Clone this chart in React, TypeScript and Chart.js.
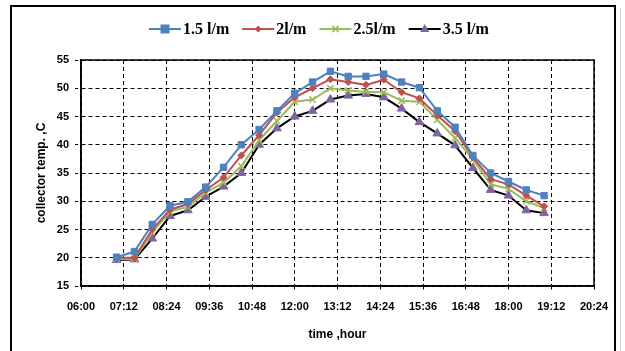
import React, { useEffect, useRef } from "react";
import { Chart, registerables } from "chart.js";

Chart.register(...registerables);

const timeLabels = [
  "07:00", "07:30", "08:00", "08:30", "09:00", "09:30", "10:00", "10:30", "11:00",
  "11:30", "12:00", "12:30", "13:00", "13:30", "14:00", "14:30", "15:00", "15:30",
  "16:00", "16:30", "17:00", "17:30", "18:00", "18:30", "19:00",
];
const flow15 = [20.1, 21.1, 25.9, 29.2, 29.9, 32.5, 36.0, 40.0, 42.7, 46.0, 49.1, 51.1, 53.0, 52.1, 52.1, 52.5, 51.1, 50.1, 46.0, 43.1, 38.1, 35.0, 33.5, 32.0, 31.0];
const flow2 = [20.0, 20.0, 25.0, 28.5, 29.5, 32.0, 34.2, 38.1, 41.7, 45.7, 48.4, 50.0, 51.6, 51.1, 50.6, 51.5, 49.3, 48.2, 45.2, 42.4, 37.8, 33.9, 33.0, 31.0, 29.1];
const flow25 = [19.8, 19.8, 24.5, 28.2, 29.0, 31.5, 33.3, 36.2, 40.8, 44.2, 47.6, 48.0, 50.0, 49.6, 49.4, 49.3, 47.8, 47.6, 44.4, 41.2, 37.4, 33.0, 32.2, 30.0, 28.8];
const flow35 = [19.6, 19.7, 23.4, 27.4, 28.4, 30.8, 32.6, 35.0, 40.0, 42.9, 45.0, 46.0, 48.0, 48.7, 49.0, 48.4, 46.4, 44.0, 42.0, 39.9, 35.9, 32.0, 31.0, 28.4, 27.9];

const seriesNames = ["1.5 l/m", "2l/m", "2.5l/m", "3.5 l/m"];
const yTicks = [15, 20, 25, 30, 35, 40, 45, 50, 55];
const xMinHour = 6;
const xMaxHour = 20.4;
const xStepHour = 1.2;

const toHour = (s: string) => {
  const [h, m] = s.split(":").map(Number);
  return h + m / 60;
};
const fmt = (v: number) => {
  const totalMin = Math.round(v * 60);
  const h = Math.floor(totalMin / 60);
  const m = totalMin % 60;
  return String(h).padStart(2, "0") + ":" + String(m).padStart(2, "0");
};

const styles = [
  { line: "#4F81BD", fill: "#4F81BD", point: "rect", radius: 4.5 },
  { line: "#C0504D", fill: "#C0504D", point: "rectRot", radius: 3.5 },
  { line: "#9BBB59", fill: "#9BBB59", point: "crossRot", radius: 4.5 },
  { line: "#000000", fill: "#8064A2", point: "triangle", radius: 5 },
];

function drawMarker(ctx: CanvasRenderingContext2D, type: string, x: number, y: number, r: number, color: string) {
  ctx.save();
  ctx.fillStyle = color;
  ctx.strokeStyle = color;
  ctx.lineWidth = 1.5;
  ctx.beginPath();
  if (type === "rect") {
    ctx.rect(x - r, y - r, 2 * r, 2 * r);
    ctx.fill();
  } else if (type === "rectRot") {
    ctx.moveTo(x, y - r);
    ctx.lineTo(x + r, y);
    ctx.lineTo(x, y + r);
    ctx.lineTo(x - r, y);
    ctx.closePath();
    ctx.fill();
  } else if (type === "crossRot") {
    ctx.moveTo(x - r * 0.7, y - r * 0.7);
    ctx.lineTo(x + r * 0.7, y + r * 0.7);
    ctx.moveTo(x + r * 0.7, y - r * 0.7);
    ctx.lineTo(x - r * 0.7, y + r * 0.7);
    ctx.stroke();
  } else {
    ctx.moveTo(x, y - r);
    ctx.lineTo(x + r * 0.9, y + r * 0.6);
    ctx.lineTo(x - r * 0.9, y + r * 0.6);
    ctx.closePath();
    ctx.fill();
  }
  ctx.restore();
}

const framePlugin = {
  id: "framePlugin",
  beforeDraw(chart: any) {
    const ctx = chart.ctx as CanvasRenderingContext2D;
    ctx.save();
    ctx.fillStyle = "#ffffff";
    ctx.fillRect(0, 0, chart.width, chart.height);
    ctx.strokeStyle = "#000";
    ctx.lineWidth = 2;
    ctx.beginPath();
    ctx.moveTo(11, 360);
    ctx.lineTo(11, 6);
    ctx.lineTo(615, 6);
    ctx.lineTo(615, 360);
    ctx.stroke();
    ctx.strokeStyle = "#d0d0d0";
    ctx.lineWidth = 1;
    ctx.beginPath();
    ctx.moveTo(620.5, 8);
    ctx.lineTo(620.5, 360);
    ctx.stroke();
    ctx.restore();
  },
  afterDraw(chart: any) {
    const ctx = chart.ctx as CanvasRenderingContext2D;
    const a = chart.chartArea;
    ctx.save();
    ctx.strokeStyle = "#000";
    ctx.lineWidth = 1.5;
    ctx.strokeRect(a.left, a.top, a.right - a.left, a.bottom - a.top);
    // legend
    ctx.font = "bold 16px 'Liberation Serif', serif";
    ctx.textBaseline = "middle";
    let x = 149;
    const y = 29;
    seriesNames.forEach((name, i) => {
      const st = styles[i];
      ctx.strokeStyle = st.line;
      ctx.lineWidth = 2;
      ctx.beginPath();
      ctx.moveTo(x, y);
      ctx.lineTo(x + 32, y);
      ctx.stroke();
      drawMarker(ctx, st.point, x + 16, y, st.radius, st.fill);
      x += 34;
      ctx.fillStyle = "#000";
      ctx.fillText(name, x, y + 1);
      x += ctx.measureText(name).width + 13;
    });
    ctx.restore();
  },
};

export default function App() {
  const ref = useRef<HTMLCanvasElement | null>(null);
  useEffect(() => {
    if (!ref.current) return;
    const xs = timeLabels.map(toHour);
    const all = [flow15, flow2, flow25, flow35];
    const chart = new Chart(ref.current, {
      type: "line",
      data: {
        datasets: all.map((vals, i) => ({
          label: seriesNames[i],
          data: vals.map((v, j) => ({ x: xs[j], y: v })),
          borderColor: styles[i].line,
          backgroundColor: styles[i].fill,
          pointBackgroundColor: styles[i].fill,
          pointBorderColor: styles[i].fill,
          pointStyle: styles[i].point as any,
          pointRadius: styles[i].radius,
          pointBorderWidth: styles[i].point === "crossRot" ? 1.5 : 1,
          borderWidth: 2,
          tension: 0,
          fill: false,
        })),
      },
      options: {
        animation: false,
        responsive: false,
        events: [],
        layout: { padding: { left: 30, right: 31, top: 60, bottom: 5 } },
        plugins: { legend: { display: false }, tooltip: { enabled: false } },
        scales: {
          x: {
            type: "linear",
            min: xMinHour,
            max: xMaxHour,
            afterBuildTicks: (scale: any) => {
              const t = [];
              for (let k = 0; k <= 12; k++) t.push({ value: +(xMinHour + k * xStepHour).toFixed(2) });
              scale.ticks = t;
            },
            afterFit: (scale: any) => {
              scale.height = 60;
            },
            ticks: {
              callback: (v: any) => fmt(Number(v)),
              font: { family: "'Liberation Sans', Arial, sans-serif", weight: "bold", size: 11 },
              color: "#000",
              padding: 8,
              maxRotation: 0,
              autoSkip: false,
            },
            grid: {
              color: "#000",
              lineWidth: 1,
              tickLength: 6,
              tickBorderDash: [3, 3],
              tickColor: "#000",
            },
            border: { display: true, color: "#000", width: 1.5, dash: [4, 3] },
            title: {
              display: true,
              text: "time ,hour",
              color: "#000",
              font: { family: "'Liberation Sans', Arial, sans-serif", weight: "bold", size: 12 },
              padding: { top: 4, bottom: 4 },
            },
          },
          y: {
            min: 15,
            max: 55,
            afterBuildTicks: (scale: any) => {
              scale.ticks = yTicks.map((v) => ({ value: v }));
            },
            afterFit: (scale: any) => {
              scale.width = 51;
            },
            ticks: {
              font: { family: "'Liberation Sans', Arial, sans-serif", weight: "bold", size: 11 },
              color: "#000",
              padding: 6,
            },
            grid: {
              color: "#000",
              lineWidth: 1,
              tickLength: 6,
              tickBorderDash: [3, 3],
              tickColor: "#000",
            },
            border: { display: true, color: "#000", width: 1.5, dash: [4, 3] },
            title: {
              display: true,
              text: "collector temp. ,C",
              color: "#000",
              font: { family: "'Liberation Sans', Arial, sans-serif", weight: "bold", size: 12 },
              padding: { top: 4, bottom: 4 },
            },
          },
        },
      } as any,
      plugins: [framePlugin],
    });
    return () => chart.destroy();
  }, []);
  return (
    <div style={{ position: "fixed", left: 0, top: 0, width: 625, height: 351, overflow: "hidden" }}>
      <canvas ref={ref} width={625} height={351} />
    </div>
  );
}
